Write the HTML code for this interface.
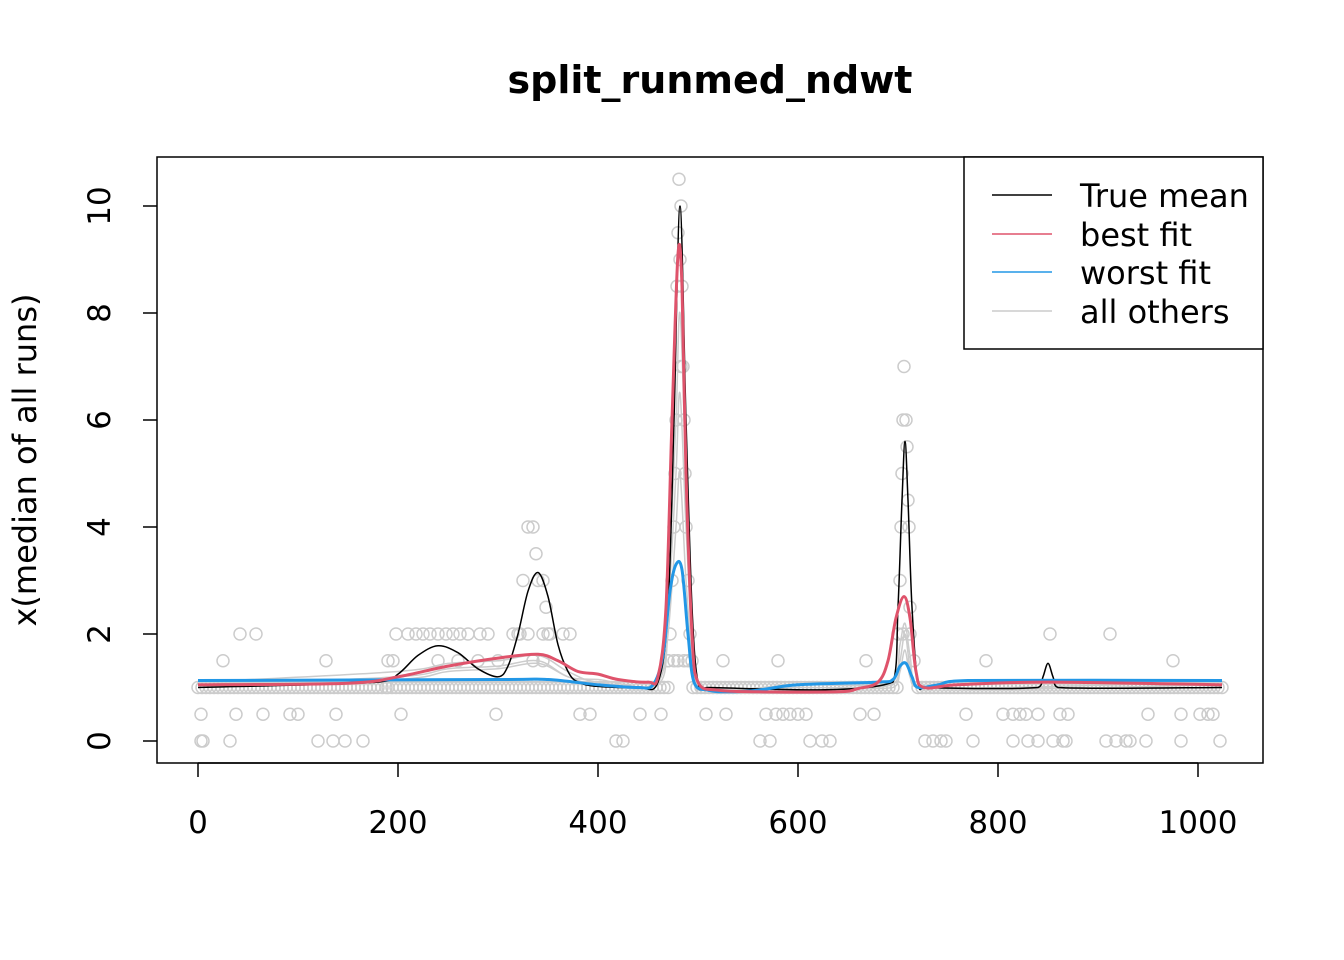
<!DOCTYPE html>
<html><head><meta charset="utf-8"><style>
body{margin:0;background:#fff}
svg{display:block;font-family:"DejaVu Sans","Liberation Sans",sans-serif}
</style></head><body>
<svg id="chart" width="1344" height="960" viewBox="0 0 1344 960" xmlns="http://www.w3.org/2000/svg">
<rect width="1344" height="960" fill="#fff"/>
<text x="710" y="93" text-anchor="middle" font-size="38" font-weight="bold">split_runmed_ndwt</text>
<text transform="translate(36,460) rotate(-90)" text-anchor="middle" font-size="32">x(median of all runs)</text>
<g id="grid"></g>
<rect x="157" y="157" width="1106" height="606" fill="none" stroke="#000" stroke-width="1.5"/>
<g id="legend">
<rect x="964" y="157" width="299" height="192" fill="#fff" stroke="#000" stroke-width="1.5"/>
<line x1="992" x2="1052" y1="195" y2="195" stroke="#000" stroke-width="1.5"/><text x="1080" y="207" font-size="32">True mean</text>
<line x1="992" x2="1052" y1="234" y2="234" stroke="#DF536B" stroke-width="1.5"/><text x="1080" y="246" font-size="32">best fit</text>
<line x1="992" x2="1052" y1="272" y2="272" stroke="#2297E6" stroke-width="1.5"/><text x="1080" y="284" font-size="32">worst fit</text>
<line x1="992" x2="1052" y1="311" y2="311" stroke="#CCCCCC" stroke-width="1.5"/><text x="1080" y="323" font-size="32">all others</text>
</g>
</svg>
<script>
const xTicks=[0,200,400,600,800,1000];
const yTicks=[0,2,4,6,8,10];
const trueX=[0,180,200,220,240,260,280,300,310,320,330,340,350,360,370,380,400,440,460,470,476,482,488,494,500,510,695,700,704,707,710,714,720,730,840,845,850,855,860,1024];
const trueY=[1,1.1,1.25,1.6,1.78,1.65,1.35,1.2,1.4,2.0,2.8,3.15,2.7,1.8,1.3,1.1,1.02,1.0,1.1,2.5,6,10,6,2.5,1.1,1.0,1.1,2.5,4.5,5.6,4.5,2.5,1.1,1.0,1.0,1.2,1.45,1.2,1.0,1.0];
const bestX=[0,150,200,250,300,340,360,380,400,420,450,460,468,474,480,484,488,494,500,520,560,640,660,680,690,698,706,712,718,726,760,850,1024];
const bestY=[1.05,1.08,1.2,1.4,1.55,1.62,1.5,1.3,1.25,1.15,1.1,1.2,2.5,6,9.1,8.5,5,2,1.1,0.95,0.92,0.92,0.98,1.1,1.5,2.3,2.7,2.3,1.3,1.0,1.05,1.1,1.05];
const worstX=[0,300,350,400,440,455,465,472,478,484,490,496,510,530,560,600,680,695,702,708,714,720,740,770,1024];
const worstY=[1.13,1.15,1.15,1.05,1.0,1.05,1.6,2.8,3.3,3.2,2,1.1,0.95,0.92,0.95,1.05,1.1,1.15,1.4,1.45,1.2,1.0,1.05,1.13,1.13];
const grayX=[0,200,250,300,340,370,400,460,470,478,482,488,496,505,600,695,702,707,712,720,1024];
const grayY1=[1.1,1.3,1.45,1.5,1.6,1.3,1.1,1.15,3,6,8,5,1.8,1.0,1.05,1.1,1.8,2.2,1.6,1.0,1.05];
const grayY2=[1.05,1.2,1.35,1.4,1.5,1.2,1.15,1.1,2.5,5,6.5,4,1.4,1.0,1.0,1.05,1.5,2.0,1.4,1.0,1.1];
const grayY3=[1.0,1.15,1.3,1.35,1.45,1.2,1.05,1.05,2,4,5,3,1.2,0.95,1.0,1.0,1.3,1.7,1.2,1.0,1.0];
const ptX=[3,5,32,120,135,147,165,418,425,562,572,612,624,632,727,735,743,748,775,815,830,840,855,865,868,908,918,928,932,948,983,1022,
3,38,65,92,100,138,203,298,382,392,442,463,508,528,568,578,585,592,600,608,662,676,768,805,815,822,828,840,862,870,950,983,1002,1010,1015,
25,128,190,195,525,580,668,788,975,240,260,280,300,
42,58,198,210,218,225,232,240,248,255,262,270,282,290,315,322,330,345,352,365,372,852,912,
481,483,480,482,484,479,485,483,478,486,477,487,476,488,474,490,472,492,470,494,
706,708,705,709,704,710,703,711,702,712,
330,335,338,340,325,345,348,320,350,
476,480,486,490,470,700,705,712,716,335,345];
const ptY=[0,0,0,0,0,0,0,0,0,0,0,0,0,0,0,0,0,0,0,0,0,0,0,0,0,0,0,0,0,0,0,0,
.5,.5,.5,.5,.5,.5,.5,.5,.5,.5,.5,.5,.5,.5,.5,.5,.5,.5,.5,.5,.5,.5,.5,.5,.5,.5,.5,.5,.5,.5,.5,.5,.5,.5,.5,
1.5,1.5,1.5,1.5,1.5,1.5,1.5,1.5,1.5,1.5,1.5,1.5,1.5,
2,2,2,2,2,2,2,2,2,2,2,2,2,2,2,2,2,2,2,2,2,2,2,
10.5,10,9.5,9,8.5,8.5,7,7,6,6,5,5,4,4,3,3,2,2,1.5,1.5,
7,6,6,5.5,5,4.5,4,4,3,2.5,
4,4,3.5,3,3,3,2.5,2,2,
1.5,1.5,1.5,1.5,1.5,2,2,2,1.5,1.5,1.5];
const baseSegStart=[0,190,370,495,720];
const baseSegEnd=[190,370,470,700,1024];

const X=v=>198+v*1.0, Y=v=>741-v*53.5;
const NS="http://www.w3.org/2000/svg";
const svg=document.getElementById('chart');
const g=document.getElementById('grid');
function mk(t,a,p){const e=document.createElementNS(NS,t);for(const k in a)e.setAttribute(k,a[k]);(p||g).appendChild(e);return e;}
xTicks.forEach(v=>{
 const l=mk('line',{x1:X(v),x2:X(v),y1:763,y2:777,stroke:'#000','stroke-width':1.5});
 
 
 const t=mk('text',{x:X(v),y:833,'text-anchor':'middle','font-size':31});t.textContent=v;
 
 
});
mk('line',{x1:X(0),x2:X(1000),y1:763,y2:763,stroke:'#000','stroke-width':1.5});
yTicks.forEach(v=>{
 const l=mk('line',{x1:143,x2:157,y1:Y(v),y2:Y(v),stroke:'#000','stroke-width':1.5});
 
 
 const t=mk('text',{transform:`translate(110,${Y(v)}) rotate(-90)`,'text-anchor':'middle','font-size':31});t.textContent=v;
 
 
});
const pg=mk('g',{});


baseSegStart.forEach((s,i)=>{for(let x=s;x<=baseSegEnd[i];x+=4){mk('circle',{cx:X(x),cy:Y(1),r:6,fill:'none',stroke:'#CCCCCC','stroke-width':1.5},pg);}});
ptX.forEach((x,i)=>{mk('circle',{cx:X(x),cy:Y(ptY[i]),r:6,fill:'none',stroke:'#CCCCCC','stroke-width':1.5},pg);});
function line(xs,ys,col,w,name){
 const P=xs.map((x,i)=>[X(x),Y(ys[i])]);
 let d='M'+P[0][0].toFixed(1)+','+P[0][1].toFixed(1);
 for(let i=0;i<P.length-1;i++){
  const p0=P[Math.max(0,i-1)],p1=P[i],p2=P[i+1],p3=P[Math.min(P.length-1,i+2)];
  const c1=[p1[0]+(p2[0]-p0[0])/6,p1[1]+(p2[1]-p0[1])/6];
  const c2=[p2[0]-(p3[0]-p1[0])/6,p2[1]-(p3[1]-p1[1])/6];
  c1[0]=Math.min(Math.max(c1[0],p1[0]),p2[0]);c2[0]=Math.min(Math.max(c2[0],p1[0]),p2[0]);
  d+=`C${c1[0].toFixed(1)},${c1[1].toFixed(1)} ${c2[0].toFixed(1)},${c2[1].toFixed(1)} ${p2[0].toFixed(1)},${p2[1].toFixed(1)}`;
 }
 const p=mk('path',{d:d,fill:'none',stroke:col,'stroke-width':w,'stroke-linejoin':'round'});
 
 
}
line(grayX,grayY1,'#CCCCCC',1.5,'gray-run-1');
line(grayX,grayY2,'#CCCCCC',1.5,'gray-run-2');
line(grayX,grayY3,'#CCCCCC',1.5,'gray-run-3');
line(trueX,trueY,'#000',1.5,'true-mean-line');
line(worstX,worstY,'#2297E6',3,'worst-fit-line');
line(bestX,bestY,'#DF536B',3,'best-fit-line');
svg.appendChild(document.getElementById('legend'));
</script>
</body></html>
